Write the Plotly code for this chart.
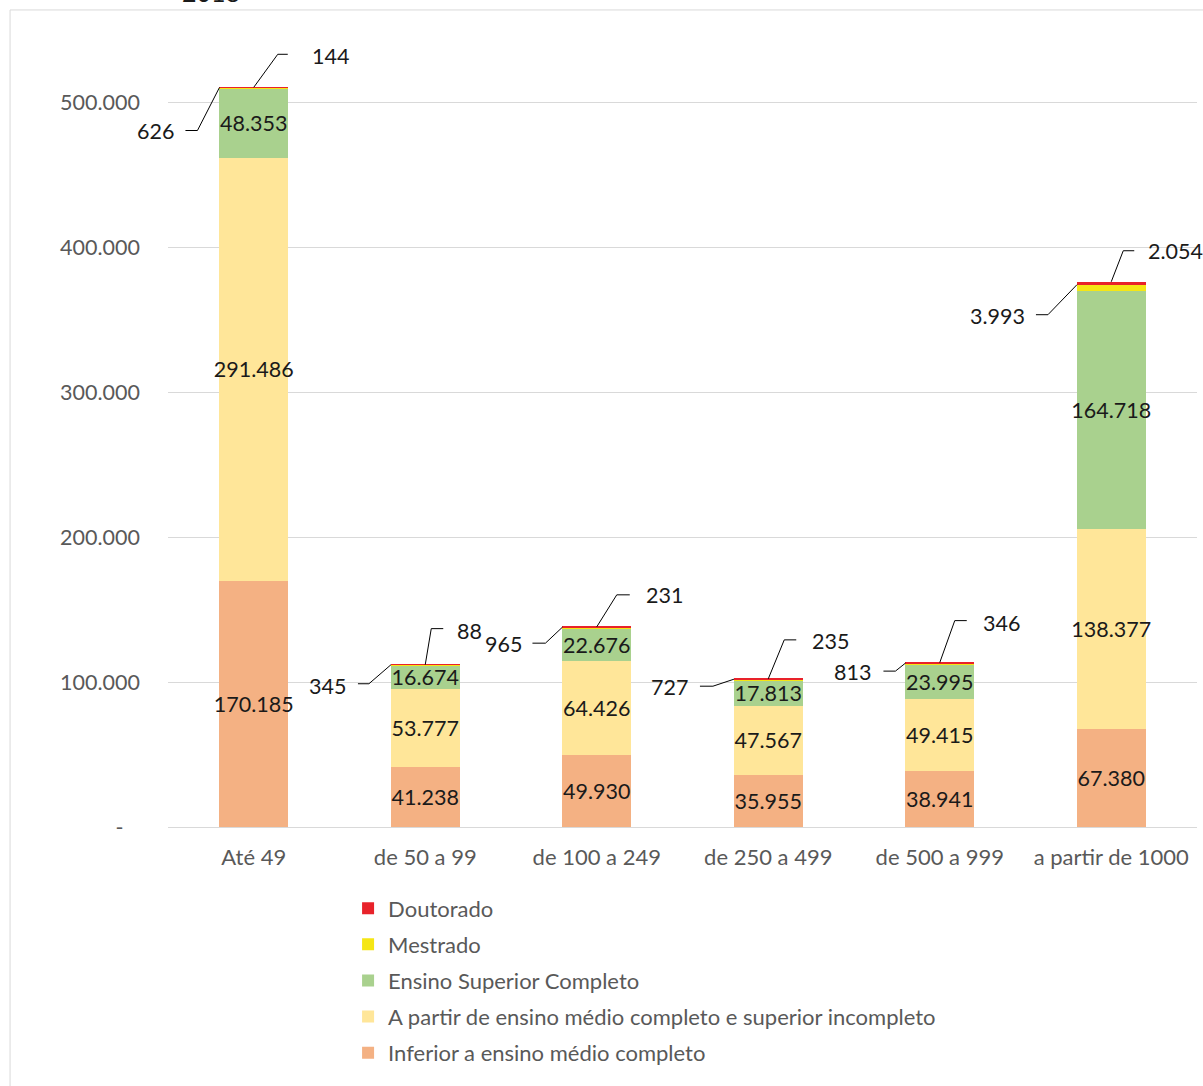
import plotly.graph_objects as go

categories = ["Até 49", "de 50 a 99", "de 100 a 249", "de 250 a 499", "de 500 a 999", "a partir de 1000"]
inferior = [170185, 41238, 49930, 35955, 38941, 67380]
medio = [291486, 53777, 64426, 47567, 49415, 138377]
superior = [48353, 16674, 22676, 17813, 23995, 164718]
mestrado = [626, 345, 965, 727, 813, 3993]
doutorado = [144, 88, 231, 235, 346, 2054]
tick_values = [0, 100000, 200000, 300000, 400000, 500000]
tick_labels = ["-\u00a0\u00a0\u00a0", "100.000", "200.000", "300.000", "400.000", "500.000"]
title_text = "2018"

def fmt(v):
    return f"{v:,}".replace(",", ".")

FONT = "Lato, 'Open Sans', sans-serif"
GREY = "#595959"
LBL = "#1a1a1a"
NUM_SIZE = 21.5
TXT_SIZE = 22

series = [
    ("Inferior a ensino médio completo", inferior, "#F4B183", True),
    ("A partir de ensino médio completo e superior incompleto", medio, "#FFE699", True),
    ("Ensino Superior Completo", superior, "#A9D18E", True),
    ("Mestrado", mestrado, "#F5E614", False),
    ("Doutorado", doutorado, "#E8222A", False),
]

fig = go.Figure()
for i, (name, vals, color, show_text) in enumerate(series):
    fig.add_trace(go.Bar(
        x=categories, y=vals, name=name, legendgroup=name,
        legendrank=1000 - i,
        marker=dict(color=color, line=dict(width=0)),
        width=0.4,
        text=[fmt(v) for v in vals] if show_text else None,
        textposition="inside" if show_text else "none",
        insidetextanchor="middle",
        textangle=0,
        constraintext="none",
        insidetextfont=dict(family=FONT, size=NUM_SIZE, color=LBL),
        hoverinfo="skip",
    ))

# leader-line label offsets (pixels): elbow dx, elbow dy, end dx, text dx, text dy
right_off = [(24, 33, 34, 56, 31), (6, 36, 18, 30, 34), (20, 32, 33, 47, 32),
             (16, 39, 28, 42, 38), (15, 42, 27, 41, 40), (12, 31, 23, 35, 31)]
left_off = [(-22, -43, -34, -43, -43), (-22, -19, -33, -43, -21), (-17, -16, -30, -38, -17),
            (-21, -7, -34, -44, -8), (-10, -8, -22, -32, -9), (-29, -30, -41, -50, -31)]

shapes = []
annotations = []
line_style = dict(color="#000000", width=1)
for i in range(len(categories)):
    total = inferior[i] + medio[i] + superior[i] + mestrado[i] + doutorado[i]
    mtop = inferior[i] + medio[i] + superior[i] + mestrado[i]
    common = dict(type="line", xref="x", yref="y", xsizemode="pixel", ysizemode="pixel",
                  line=line_style)
    # right label (Doutorado)
    ex, ey, nx, tx, ty = right_off[i]
    shapes.append(dict(common, xanchor=i, yanchor=total, x0=0, y0=0, x1=ex, y1=ey))
    shapes.append(dict(common, xanchor=i, yanchor=total, x0=ex, y0=ey, x1=nx, y1=ey))
    annotations.append(dict(x=i, y=total, xref="x", yref="y", text=fmt(doutorado[i]),
                            showarrow=False, xanchor="left", yanchor="middle",
                            xshift=tx, yshift=ty,
                            font=dict(family=FONT, size=NUM_SIZE, color=LBL)))
    # left label (Mestrado)
    ex, ey, nx, tx, ty = left_off[i]
    shapes.append(dict(common, xanchor=i - 0.2, yanchor=mtop, x0=0, y0=0, x1=ex, y1=ey))
    shapes.append(dict(common, xanchor=i - 0.2, yanchor=mtop, x0=ex, y0=ey, x1=nx, y1=ey))
    annotations.append(dict(x=i - 0.2, y=mtop, xref="x", yref="y", text=fmt(mestrado[i]),
                            showarrow=False, xanchor="right", yanchor="middle",
                            xshift=tx, yshift=ty,
                            font=dict(family=FONT, size=NUM_SIZE, color=LBL)))

# chart-area border (top and left visible)
shapes.append(dict(type="rect", xref="paper", yref="paper", x0=-0.1535, x1=1.02,
                   y0=-0.36, y1=1.0448, line=dict(color="#d9d9d9", width=1),
                   fillcolor="rgba(0,0,0,0)", layer="below"))

annotations.append(dict(x=(211 - 168) / 1029, y=1.046, xref="paper", yref="paper",
                        text=title_text, showarrow=False, xanchor="center", yanchor="bottom",
                        font=dict(family=FONT, size=25, color=LBL)))

fig.update_layout(
    barmode="stack",
    width=1203, height=1086,
    margin=dict(l=168, r=6, t=45, b=259),
    paper_bgcolor="white", plot_bgcolor="white",
    font=dict(family=FONT, size=TXT_SIZE, color=GREY),
    showlegend=True,
    legend=dict(
        x=0.175, y=-0.0773, xanchor="left", yanchor="top",
        traceorder="grouped", tracegroupgap=4.5,
        font=dict(family=FONT, size=TXT_SIZE, color=GREY),
        bgcolor="rgba(0,0,0,0)",
    ),
    shapes=shapes,
    annotations=annotations,
    xaxis=dict(
        type="category", range=[-0.5, 5.5], autorange=False,
        showgrid=False, showline=True, linecolor="#d9d9d9", linewidth=1,
        ticks="", tickfont=dict(family=FONT, size=TXT_SIZE, color=GREY), ticklabelstandoff=11,
        fixedrange=True,
    ),
    yaxis=dict(
        range=[0, 540000], tickvals=tick_values, ticktext=tick_labels,
        showgrid=True, gridcolor="#d9d9d9", gridwidth=1, zeroline=False,
        showline=False, ticks="", tickfont=dict(family=FONT, size=NUM_SIZE, color=GREY),
        ticklabelstandoff=27, fixedrange=True,
    ),
)

fig.write_html("out.html")
